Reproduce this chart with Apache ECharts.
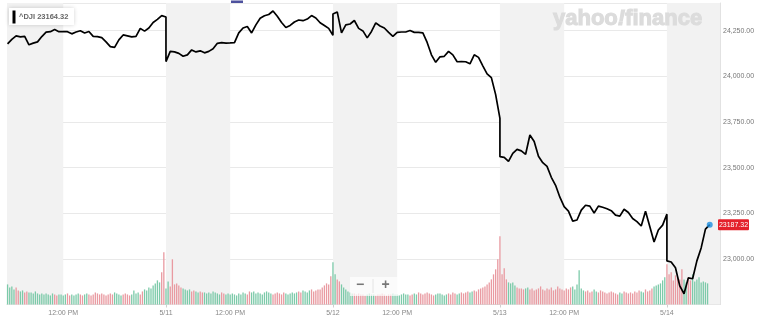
<!DOCTYPE html>
<html><head><meta charset="utf-8">
<script src="https://cdn.jsdelivr.net/npm/echarts@6/dist/echarts.min.js"></script>
<style>html,body{margin:0;padding:0;background:#fff}#c{width:768px;height:322px}</style>
</head><body><div id="c"></div>
<script>
// ---- data ----
const dayLabels = ['5/8', '5/11', '5/12', '5/13', '5/14'];
const minutesPerDay = 390;      // 9:30 - 16:00
const noonMinute = 150;          // 12:00 PM
const priceStepMin = 10;
const volStepMin = 5;
const priceStartMin = [20, 0, 0, 0, 0];
const volStartMin = [20, 0, 0, 0, 0];

const price0 = [24178, 24203, 24222, 24216, 24219, 24173, 24182, 24189, 24218, 24242,
  24245, 24257, 24245, 24245, 24245, 24233, 24243, 24250, 24238, 24246,
  24219, 24218, 24212, 24189, 24163, 24159, 24200, 24227, 24222, 24216,
  24219, 24263, 24248, 24265, 24295, 24312, 24333, 24325];
const price1 = [24081, 24137, 24134, 24126, 24110, 24118, 24145, 24134, 24140, 24129,
  24137, 24151, 24181, 24185, 24182, 24183, 24185, 24238, 24265, 24273,
  24238, 24282, 24318, 24332, 24339, 24358, 24329, 24295, 24268, 24279,
  24298, 24309, 24305, 24314, 24333, 24320, 24294, 24279, 24263, 24225];
const price2 = [24342, 24353, 24238, 24282, 24287, 24306, 24263, 24249, 24211, 24246,
  24293, 24276, 24265, 24241, 24219, 24241, 24243, 24243, 24251, 24241,
  24241, 24238, 24186, 24118, 24077, 24107, 24110, 24137, 24118, 24080,
  24081, 24080, 24069, 24118, 24104, 24058, 24014, 23993, 23900, 23770];
const price3 = [23560, 23556, 23534, 23578, 23600, 23592, 23573, 23679, 23643, 23562,
  23527, 23507, 23447, 23403, 23338, 23286, 23262, 23207, 23213, 23267,
  23294, 23289, 23251, 23289, 23283, 23275, 23264, 23240, 23234, 23272,
  23254, 23221, 23204, 23180, 23261, 23177, 23092, 23158, 23185, 23245];
const price4 = [22989, 22983, 22951, 22852, 22809, 22896, 22891, 22989, 23060, 23163, 23187.32];

const vol0 = [20, 17, 18, 15, 17, 14,
  13, 14, 12, 13, 12, 12, 11, 13, 11, 10,
  11, 10, 11, 10, 9, 11, 10, 9, 10, 10,
  9, 10, 11, 9, 10, 9, 10, 11, 10, 9,
  10, 11, 10, 9, 10, 12, 11, 10, 11, 10,
  9, 10, 11, 10, 12, 11, 10, 9, 10, 11,
  10, 9, 10, 14, 11, 12, 10, 13, 15, 14,
  17, 16, 19, 21, 24, 22, 32, 52];
const vol1 = [16, 23, 18, 45, 20, 21, 19, 17, 16, 15,
  14, 15, 13, 14, 13, 12, 13, 12, 12, 11,
  12, 11, 13, 12, 11, 10, 12, 11, 10, 11,
  10, 11, 10, 9, 11, 10, 12, 11, 10, 13,
  12, 13, 11, 12, 11, 10, 12, 13, 12, 11,
  10, 11, 12, 11, 10, 12, 11, 10, 11, 12,
  11, 12, 13, 12, 14, 13, 12, 14, 15, 13,
  14, 15, 15, 17, 19, 21, 20, 28];
const vol2 = [42, 30, 25, 23, 20, 17, 15, 13, 12, 11,
  11, 10, 11, 10, 10, 9, 10, 11, 10, 10,
  9, 10, 10, 11, 10, 9, 10, 10, 11, 10,
  10, 9, 10, 11, 10, 10, 9, 10, 11, 10,
  12, 11, 10, 11, 12, 11, 10, 9, 10, 11,
  11, 10, 9, 10, 11, 10, 12, 11, 10, 11,
  12, 11, 12, 13, 12, 13, 14, 13, 15, 16,
  17, 18, 20, 22, 25, 30, 35, 45];
const vol3 = [68, 30, 36, 25, 22, 21, 22, 19, 17, 16,
  16, 15, 16, 17, 15, 16, 14, 15, 16, 18,
  15, 14, 16, 15, 17, 14, 15, 18, 16, 15,
  14, 16, 15, 17, 18, 15, 20, 34, 16, 14,
  13, 14, 12, 13, 15, 13, 12, 14, 13, 12,
  11, 12, 13, 12, 11, 10, 12, 11, 13, 12,
  11, 12, 11, 13, 12, 14, 13, 12, 15, 13,
  14, 16, 18, 19, 20, 21, 24, 27];
const vol4 = [40, 30, 32, 24, 29, 27, 25, 35, 25, 22, 27, 24, 30, 23, 25, 27, 22, 23, 22, 21];

const priceTicks = [23000, 23250, 23500, 23750, 24000, 24250];
const priceMin = 22750, priceMax = 24402, priceInterval = 250;
const timeMin = 18.7, timeMax = 1684;
const volMax = 300;
const lastPrice = 23187.32;
const legendText = '^DJI 23164.32';

// ---- build ----
const prices = [price0, price1, price2, price3, price4];
const vols = [vol0, vol1, vol2, vol3, vol4];
const priceMap = {};
const lineData = [];
prices.forEach((arr, d) => {
  arr.forEach((v, i) => {
    const m = priceStartMin[d] + i * priceStepMin;
    priceMap[d + '-' + m] = v;
    lineData.push([d * minutesPerDay + m, v]);
  });
});
const UP = '#7ccaa9', DOWN = '#e99aa1';
const barData = [];
vols.forEach((arr, d) => {
  arr.forEach((v, j) => {
    const m = volStartMin[d] + j * volStepMin;
    const m0 = Math.floor(m / priceStepMin) * priceStepMin;
    const p0 = priceMap[d + '-' + m0], p1 = priceMap[d + '-' + (m0 + priceStepMin)];
    const up = (p0 === undefined || p1 === undefined) ? true : p1 >= p0;
    barData.push({ value: [d * minutesPerDay + m, v], itemStyle: { color: up ? UP : DOWN } });
  });
});
const bands = [];
for (let d = 0; d < dayLabels.length; d++) {
  const a = Math.max(timeMin, d * minutesPerDay), b = Math.min(timeMax, d * minutesPerDay + noonMinute);
  if (b > a) bands.push([{ xAxis: a }, { xAxis: b }]);
}
const labelValues = [], dayStarts = [];
for (let d = 0; d < 4; d++) {
  labelValues.push(d * minutesPerDay + noonMinute);
  labelValues.push((d + 1) * minutesPerDay);
  dayStarts.push((d + 1) * minutesPerDay);
}
const lastT = lineData[lineData.length - 1][0];

const chart = echarts.init(document.getElementById('c'), null, { renderer: 'canvas' });
const FONT = '"Liberation Sans", Arial, sans-serif';
chart.setOption({
  animation: false,
  grid: { left: 7, right: 48, top: 3, bottom: 17.5 },
  xAxis: {
    type: 'value', min: timeMin, max: timeMax,
    splitLine: { show: false },
    axisTick: { show: true, customValues: dayStarts, length: 3, lineStyle: { color: '#cfcfcf' } },
    axisLine: { show: true, lineStyle: { color: '#dcdcdc', width: 1 } },
    axisLabel: {
      customValues: labelValues, margin: 5,
      color: '#888', fontSize: 7, fontFamily: FONT,
      formatter: v => (Math.round(v) % minutesPerDay === noonMinute) ? '12:00 PM' : dayLabels[Math.round(v / minutesPerDay)]
    }
  },
  yAxis: [{
    type: 'value', position: 'right', min: priceMin, max: priceMax, interval: priceInterval,
    axisLine: { show: true, lineStyle: { color: '#e2e2e2' } },
    axisTick: { show: false },
    splitLine: { lineStyle: { color: '#e9e9e9', width: 1 } },
    axisLabel: {
      showMinLabel: false, showMaxLabel: false, margin: 3,
      color: '#777', fontSize: 7, fontFamily: FONT,
      formatter: v => priceTicks.includes(v) ? v.toLocaleString('en-US', { minimumFractionDigits: 2, maximumFractionDigits: 2 }) : ''
    }
  }, {
    type: 'value', min: 0, max: volMax, show: false, splitLine: { show: false }
  }],
  series: [{
    type: 'line', data: [], z: 0, silent: true,
    markArea: { silent: true, itemStyle: { color: '#f2f2f2' }, data: bands }
  }, {
    type: 'bar', yAxisIndex: 1, data: barData, barWidth: 1.3, z: 2, silent: true
  }, {
    type: 'line', yAxisIndex: 0, data: lineData, showSymbol: false, z: 3,
    lineStyle: { color: '#000', width: 1.7 }, silent: true
  }, {
    type: 'scatter', yAxisIndex: 0, data: [[lastT, lastPrice]], symbolSize: 6, z: 4,
    itemStyle: { color: '#1d8ee0' }, silent: true
  }]
});

const yLast = chart.convertToPixel({ yAxisIndex: 0 }, lastPrice);
const G = (o) => Object.assign({ z: 100, silent: true }, o);
const logoStyle = { fontSize: 22, fontWeight: 'bold', fontFamily: FONT, fill: '#dcdcdc', stroke: '#dcdcdc', lineWidth: 1.1 };
chart.setOption({
  graphic: [
    G({ type: 'rect', shape: { x: 231, y: 0.5, width: 12, height: 2.5 }, style: { fill: '#4d519e' } }),
    G({ type: 'rect', shape: { x: 9, y: 8, width: 65, height: 17 }, style: { fill: '#fff', shadowBlur: 4, shadowColor: 'rgba(0,0,0,0.18)' } }),
    G({ type: 'rect', z: 101, shape: { x: 12.5, y: 10.5, width: 3, height: 13 }, style: { fill: '#000' } }),
    G({ type: 'text', z: 101, x: 19, y: 17, style: { text: legendText, font: 'bold 7.5px ' + FONT, fill: '#666', verticalAlign: 'middle' } }),
    G({ type: 'text', x: 553, y: 8, style: {
      text: '{a|yahoo}{b|!}{a|finance}',
      rich: { a: logoStyle, b: Object.assign({}, logoStyle, { fontStyle: 'italic' }) }
    } }),
    G({ type: 'rect', shape: { x: 350, y: 277, width: 48, height: 19 }, style: { fill: 'rgba(255,255,255,0.7)' } }),
    G({ type: 'text', z: 101, x: 360, y: 285.5, style: { text: '\u2212', font: 'bold 14px ' + FONT, fill: '#777', align: 'center', verticalAlign: 'middle' } }),
    G({ type: 'line', z: 101, shape: { x1: 373, y1: 279, x2: 373, y2: 293 }, style: { stroke: '#e4e4e4', lineWidth: 1 } }),
    G({ type: 'text', z: 101, x: 385.5, y: 285.5, style: { text: '+', font: 'bold 14px ' + FONT, fill: '#777', align: 'center', verticalAlign: 'middle' } }),
    G({ type: 'rect', shape: { x: 718, y: yLast - 5.5, width: 31, height: 11, r: 1 }, style: { fill: '#e4212b' } }),
    G({ type: 'text', z: 101, x: 733.5, y: yLast, style: { text: lastPrice.toFixed(2), font: '7px ' + FONT, fill: '#fff', align: 'center', verticalAlign: 'middle' } })
  ]
});
</script></body></html>
